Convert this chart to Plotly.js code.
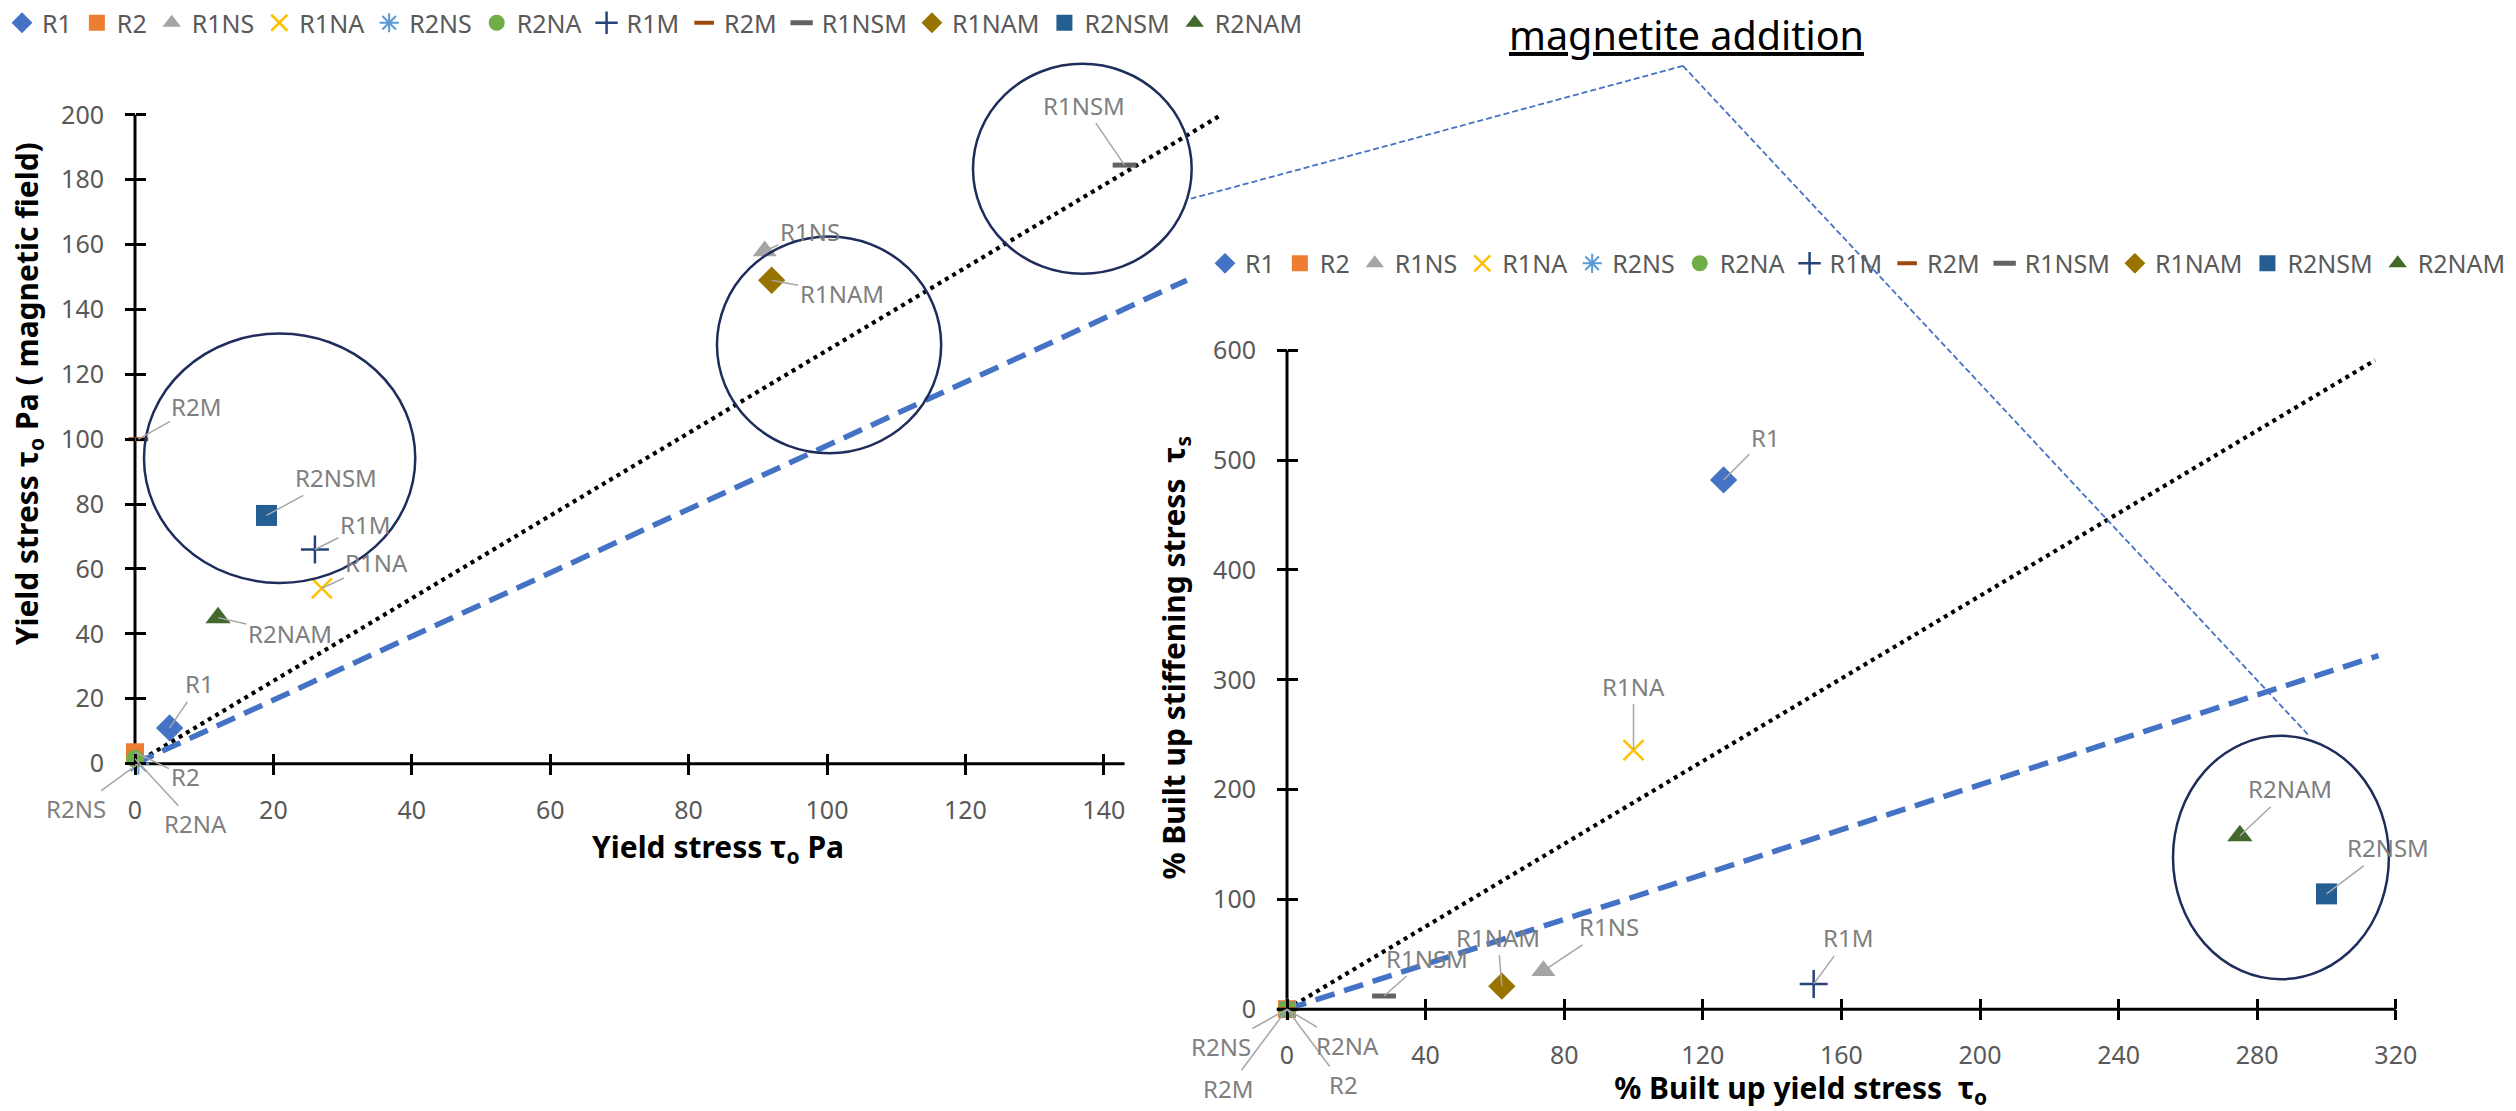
<!DOCTYPE html>
<html><head><meta charset="utf-8">
<script src="https://cdn.plot.ly/plotly-3.0.1.min.js"></script>
<style>html,body{margin:0;padding:0;background:#fff;}#chart{width:2516px;height:1111px;}</style>
</head><body><div id="chart"></div>
<script>
// ---------------- data ----------------
const series = ['R1','R2','R1NS','R1NA','R2NS','R2NA','R1M','R2M','R1NSM','R1NAM','R2NSM','R2NAM'];
// left chart: Yield stress τo Pa  vs  Yield stress τo Pa (magnetic field)
const yieldStress      = [5, 0, 91, 27, 0.5, 0, 26, 0.5, 143, 92, 19, 12];
const yieldStressMag   = [11, 3.5, 158, 54, 0, 1.5, 66, 100, 184.5, 149, 76.5, 45];
// right chart: % built up yield stress  vs  % built up stiffening stress
const builtYield       = [126, 0, 74, 100, 0, 0, 152, 0, 28, 62, 300, 275];
const builtStiffening  = [482, 0, 35, 236, 0, 0, 23, 0, 12, 21, 105, 158];
// reference lines
const leftDottedX = [0, 157],  leftDottedY = [0, 200];
const leftDashedX = [0, 152],  leftDashedY = [0, 149];
const rightDottedX = [0, 314], rightDottedY = [0, 591];
const rightDashedX = [0, 315], rightDashedY = [0, 322];
// tick values
const leftXTicks  = [0,20,40,60,80,100,120,140];
const leftYTicks  = [0,20,40,60,80,100,120,140,160,180,200];
const rightXTicks = [0,40,80,120,160,200,240,280,320];
const rightYTicks = [0,100,200,300,400,500,600];
// axis line extents
const leftAxisX = [0, 143], leftAxisY = [0, 200];
const rightAxisX = [0, 320], rightAxisY = [0, 600];
// highlight ellipses [x0, x1, y0, y1]
const leftCircles  = [[1.3,40.5,55.7,132.6],[84.1,116.5,95.7,162.5],[121.1,152.7,151,215.7]];
const rightCircles = [[255.7,318,27.3,249]];

// ---------------- styles / positions ----------------
const FONT = 'Noto Sans, Open Sans, sans-serif';
const W = 2516, H = 1111;
const markerStyle = [
  {symbol:'diamond', color:'#4472C4', size:21},
  {symbol:'square', color:'#ED7D31', size:18},
  {symbol:'triangle-up', color:'#A5A5A5', size:21},
  {symbol:'x-thin-open', color:'#FFC000', size:20, lw:2.5},
  {symbol:'asterisk-open', color:'#5B9BD5', size:18, lw:2},
  {symbol:'circle', color:'#70AD47', size:18},
  {symbol:'cross-thin-open', color:'#264478', size:20, lw:2.5},
  {symbol:'line-ew-open', color:'#9E480E', size:14, lw:4},
  {symbol:'line-ew-open', color:'#636363', size:17, lw:5},
  {symbol:'diamond', color:'#997300', size:21},
  {symbol:'square', color:'#255E91', size:21},
  {symbol:'triangle-up', color:'#43682B', size:22}
];
const leftLabelOff  = [[30,-44],[50,24],[45,-20],[55,-26],[-62,45],[60,65],[50,-25],[58,-33],[-41,-60],[70,13],[70,-38],[72,16]];
const rightLabelOff = [[42,-42],[56,75],[66,-44],[0,-64],[-66,37],[60,36],[34,-46],[-59,79],[43,-38],[-4,-49],[61,-46],[50,-47]];

// pixel frames of the two panels (origin px, px per unit, visible range)
const L = {ox:135, oy:763, sx:6.92, sy:3.25, xr:[-2,170.5], yr:[-3,231]};
const R = {ox:1287, oy:1009, sx:3.465, sy:1.1, xr:[-25,321.5], yr:[-8,648]};
const xdom = P => [(P.ox+P.xr[0]*P.sx)/W, (P.ox+P.xr[1]*P.sx)/W];
const ydom = P => [1-(P.oy-P.yr[0]*P.sy)/H, 1-(P.oy-P.yr[1]*P.sy)/H];

function markerOf(i){
  const m = markerStyle[i];
  const o = {symbol:m.symbol, color:m.color, size:m.size};
  o.line = m.lw ? {color:m.color, width:m.lw} : {width:0};
  return o;
}

const traces = [];
function refLine(x,y,xa,ya,kind){
  return {x, y, xaxis:xa, yaxis:ya, mode:'lines', showlegend:false, hoverinfo:'skip',
    line: kind==='dot' ? {color:'#000', width:4.2, dash:'4px,4.5px'} : {color:'#4472C4', width:5.5, dash:'20px,10px'}};
}
traces.push(refLine(leftDottedX, leftDottedY, 'x','y','dot'));
traces.push(refLine(leftDashedX, leftDashedY, 'x','y','dash'));
traces.push(refLine(rightDottedX, rightDottedY, 'x2','y2','dot'));
traces.push(refLine(rightDashedX, rightDashedY, 'x2','y2','dash'));
// empty traces registering the overlay tick axes (cross ticks)
traces.push({x:[], y:[], xaxis:'x3', yaxis:'y', showlegend:false});
traces.push({x:[], y:[], xaxis:'x', yaxis:'y3', showlegend:false});
traces.push({x:[], y:[], xaxis:'x4', yaxis:'y2', showlegend:false});
traces.push({x:[], y:[], xaxis:'x2', yaxis:'y4', showlegend:false});

series.forEach((name,i)=>{
  traces.push({x:[yieldStress[i]], y:[yieldStressMag[i]], name, mode:'markers', xaxis:'x', yaxis:'y',
    marker:markerOf(i), cliponaxis:false, legend:'legend'});
});
series.forEach((name,i)=>{
  traces.push({x:[builtYield[i]], y:[builtStiffening[i]], name, mode:'markers', xaxis:'x2', yaxis:'y2',
    marker:markerOf(i), cliponaxis:false, legend:'legend2'});
});

const tickFont = {family:FONT, size:25, color:'#595959'};
const titleFont = {family:FONT, size:30, color:'#000'};
function mainAxis(P, isX, tickvals, title, standoff, labStand){
  return {range: isX?P.xr:P.yr, autorange:false, domain: isX?xdom(P):ydom(P),
    anchor:'free', position: isX ? 1-P.oy/H : P.ox/W,
    tickmode:'array', tickvals, ticktext: tickvals.map(String),
    ticks:'outside', ticklen:10, tickwidth:3, tickcolor:'#000',
    showline:false, zeroline:false, showgrid:false, tickfont:tickFont, ticklabelstandoff:labStand,
    title:{text:title, font:titleFont, standoff}};
}
function overlayAxis(P, isX, tickvals, over){
  return {overlaying:over, range: isX?P.xr:P.yr, autorange:false, anchor:'free',
    position: isX ? 1-P.oy/H : P.ox/W, tickmode:'array', tickvals,
    ticks:'inside', ticklen:10, tickwidth:3, tickcolor:'#000', showticklabels:false,
    showline:false, zeroline:false, showgrid:false};
}

const shapes = [];
function axisLines(xs, ys, xref, yref){
  shapes.push({type:'line', xref, yref, x0:xs[0], x1:xs[1], y0:0, y1:0, line:{color:'#000', width:3}, layer:'below'});
  shapes.push({type:'line', xref, yref, x0:0, x1:0, y0:ys[0], y1:ys[1], line:{color:'#000', width:3}, layer:'below'});
}
axisLines(leftAxisX, leftAxisY, 'x', 'y');
axisLines(rightAxisX, rightAxisY, 'x2', 'y2');
leftCircles.forEach(c=>shapes.push({type:'circle', xref:'x', yref:'y', x0:c[0], x1:c[1], y0:c[2], y1:c[3], line:{color:'#1F2D5C', width:2.5}, layer:'above'}));
rightCircles.forEach(c=>shapes.push({type:'circle', xref:'x2', yref:'y2', x0:c[0], x1:c[1], y0:c[2], y1:c[3], line:{color:'#1F2D5C', width:2.5}, layer:'above'}));
// callout lines from the "magnetite addition" note
const calloutStart = [1683/W, 1-64/H];
shapes.push({type:'line', xref:'paper', yref:'paper', x0:calloutStart[0], y0:calloutStart[1], x1:1191/W, y1:1-197/H, line:{color:'#4472C4', width:1.8, dash:'6px,3px'}});
shapes.push({type:'line', xref:'paper', yref:'paper', x0:calloutStart[0], y0:calloutStart[1], x1:2309/W, y1:1-735/H, line:{color:'#4472C4', width:1.8, dash:'6px,3px'}});

const annotations = [];
function labels(xs, ys, offs, xref, yref){
  series.forEach((name,i)=>annotations.push({x:xs[i], y:ys[i], xref, yref, text:name, showarrow:true,
    arrowhead:0, arrowwidth:1.5, arrowcolor:'#A6A6A6', ax:offs[i][0], ay:offs[i][1], standoff:0,
    font:{family:FONT, size:24, color:'#7F7F7F'}}));
}
labels(yieldStress, yieldStressMag, leftLabelOff, 'x', 'y');
labels(builtYield, builtStiffening, rightLabelOff, 'x2', 'y2');
annotations.push({xref:'paper', yref:'paper', x:1686/W, y:1-33/H, xanchor:'center', yanchor:'middle',
  text:'<u>magnetite addition</u>', showarrow:false, font:{family:FONT, size:39.5, color:'#000'}});

const legendBase = {orientation:'h', xanchor:'left', yanchor:'middle', bgcolor:'rgba(0,0,0,0)',
  font:{family:FONT, size:25, color:'#595959'}, itemwidth:30};

const layout = {
  width:W, height:H, margin:{l:0,r:0,t:0,b:0}, paper_bgcolor:'#fff', plot_bgcolor:'rgba(0,0,0,0)',
  showlegend:true, hovermode:false,
  legend:Object.assign({x:2/W, y:1-21/H}, legendBase),
  legend2:Object.assign({x:1205/W, y:1-262/H}, legendBase),
  xaxis: mainAxis(L, true, leftXTicks, '<b>Yield stress τ<sub>o</sub> Pa</b>', 11, 14),
  yaxis: mainAxis(L, false, leftYTicks, '<b>Yield stress τ<sub>o</sub> Pa ( magnetic field)</b>', 12, 16),
  xaxis2: mainAxis(R, true, rightXTicks, '<b>% Built up yield stress  τ<sub>o</sub></b>', 16, 14),
  yaxis2: mainAxis(R, false, rightYTicks, '<b>% Built up stiffening stress  τ<sub>s</sub></b>', 17, 16),
  xaxis3: overlayAxis(L, true, leftXTicks, 'x'),
  yaxis3: overlayAxis(L, false, leftYTicks, 'y'),
  xaxis4: overlayAxis(R, true, rightXTicks, 'x2'),
  yaxis4: overlayAxis(R, false, rightYTicks, 'y2'),
  shapes, annotations
};
Plotly.newPlot('chart', traces, layout, {displayModeBar:false, staticPlot:true});
</script></body></html>
